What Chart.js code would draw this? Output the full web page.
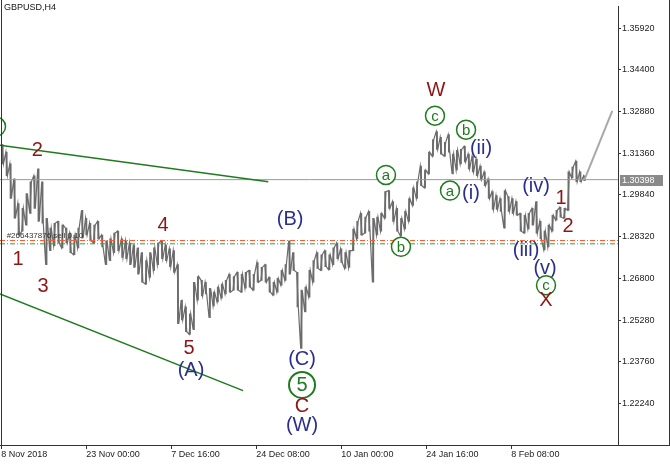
<!DOCTYPE html>
<html>
<head>
<meta charset="utf-8">
<title>GBPUSD H4</title>
<script src="https://cdn.jsdelivr.net/npm/chart.js@4.4.0/dist/chart.umd.min.js"></script>
<style>
    body { margin: 0; background: #fff; }
</style>
</head>
<body>
<canvas id="wykres" width="670" height="464"></canvas>
<script>
var barStep = 3;
var highs = [
    1.3168, 1.3140, 1.3097, 1.3043, 1.2953, 1.2935, 1.2989, 1.3032, 1.3054, 1.3079,
    1.3032, 1.2899, 1.2863, 1.2881, 1.2888, 1.2874, 1.2863, 1.2845, 1.2838, 1.2863,
    1.2928, 1.2899, 1.2881, 1.2874, 1.2888, 1.2838, 1.2817, 1.2824, 1.2845, 1.2852,
    1.2824, 1.2817, 1.2809, 1.2802, 1.2791, 1.2774, 1.2745, 1.2774, 1.2791, 1.2809,
    1.2817, 1.2802, 1.2788, 1.2781, 1.2730, 1.2601, 1.2576, 1.2551, 1.2666, 1.2687,
    1.2673, 1.2666, 1.2644, 1.2630, 1.2648, 1.2659, 1.2673, 1.2695, 1.2687, 1.2702,
    1.2695, 1.2702, 1.2709, 1.2695, 1.2738, 1.2720, 1.2730, 1.2684, 1.2666, 1.2680,
    1.2709, 1.2730, 1.2817, 1.2774, 1.2702, 1.2637, 1.2648, 1.2709, 1.2745, 1.2774,
    1.2766, 1.2781, 1.2766, 1.2791, 1.2809, 1.2788, 1.2774, 1.2781, 1.2860, 1.2888,
    1.2917, 1.2903, 1.2924, 1.2899, 1.2903, 1.2917, 1.2996, 1.3000, 1.2960, 1.2935,
    1.2899, 1.2924, 1.2971, 1.3010, 1.3032, 1.3089, 1.3075, 1.3140, 1.3186, 1.3215,
    1.3194, 1.3176, 1.3204, 1.3133, 1.3147, 1.3150, 1.3161, 1.3133, 1.3125, 1.3115,
    1.3089, 1.3068, 1.3043, 1.2996, 1.2982, 1.2971, 1.3000, 1.2978, 1.2971, 1.2960,
    1.2917, 1.2910, 1.2917, 1.2935, 1.2960, 1.2888, 1.2852, 1.2874, 1.2910, 1.2928,
    1.2939, 1.2935, 1.3068, 1.3086, 1.3107, 1.3068, 1.3054
];
var lows = [
    1.3097, 1.3054, 1.2971, 1.2899, 1.2838, 1.2852, 1.2874, 1.2917, 1.2935, 1.2888,
    1.2881, 1.2730, 1.2781, 1.2799, 1.2809, 1.2791, 1.2809, 1.2774, 1.2766, 1.2791,
    1.2827, 1.2838, 1.2817, 1.2809, 1.2824, 1.2795, 1.2730, 1.2745, 1.2774, 1.2781,
    1.2756, 1.2752, 1.2730, 1.2720, 1.2695, 1.2666, 1.2659, 1.2684, 1.2709, 1.2730,
    1.2752, 1.2745, 1.2723, 1.2702, 1.2515, 1.2529, 1.2486, 1.2476, 1.2493, 1.2601,
    1.2616, 1.2623, 1.2537, 1.2580, 1.2594, 1.2608, 1.2623, 1.2630, 1.2637, 1.2637,
    1.2630, 1.2644, 1.2648, 1.2637, 1.2666, 1.2673, 1.2666, 1.2630, 1.2619, 1.2630,
    1.2655, 1.2673, 1.2695, 1.2709, 1.2576, 1.2425, 1.2558, 1.2612, 1.2666, 1.2716,
    1.2709, 1.2723, 1.2712, 1.2730, 1.2752, 1.2738, 1.2716, 1.2720, 1.2781, 1.2824,
    1.2838, 1.2845, 1.2852, 1.2666, 1.2838, 1.2852, 1.2899, 1.2935, 1.2888, 1.2852,
    1.2835, 1.2860, 1.2888, 1.2946, 1.2971, 1.3018, 1.3010, 1.3061, 1.3125, 1.3150,
    1.3133, 1.3125, 1.3140, 1.3061, 1.3075, 1.3097, 1.3104, 1.3079, 1.3068, 1.3054,
    1.3039, 1.3018, 1.2971, 1.2931, 1.2931, 1.2924, 1.2863, 1.2924, 1.2917, 1.2910,
    1.2852, 1.2845, 1.2860, 1.2874, 1.2845, 1.2824, 1.2784, 1.2795, 1.2852, 1.2892,
    1.2903, 1.2899, 1.2928, 1.3046, 1.3032, 1.3032, 1.3036
];

var tickBars = [0, 64, 128, 192, 256, 320, 384];
var tickLabels = ["8 Nov 2018", "23 Nov 00:00", "7 Dec 16:00", "24 Dec 08:00", "10 Jan 00:00", "24 Jan 16:00", "8 Feb 08:00"];
var priceTicks = [1.22240, 1.23760, 1.25280, 1.26800, 1.28320, 1.29840, 1.31360, 1.32880, 1.34400, 1.35920];
var lastPrice = 1.30398;
var orderRed = 1.2818;
var orderGreen = 1.2806;
var orderText = "#266437876 sell 0.10";

var upperTrend = [{x: -1, y: 1.3165}, {x: 201, y: 1.3032}];
var lowerTrend = [{x: -1, y: 1.2623}, {x: 182, y: 1.2271}];
var projection = [{x: 439, y: 1.3039}, {x: 460, y: 1.3290}];

// wave marks: r = red, b = blue, g = green circle, G = big green circle
var waveText  = ["c", "2", "1", "3", "4", "5", "(A)", "(B)", "(C)", "5", "C", "(W)", "W", "c", "a", "b", "a", "(i)", "b", "(ii)", "(iv)", "1", "2", "(iii)", "(v)", "c", "X"];
var waveBar   = [-4, 27, 12.6, 31.4, 121.7, 141.3, 142.8, 217.4, 226.4, 226.4, 226.4, 226.4, 327.3, 326.5, 289.6, 300.9, 337.8, 353.6, 349.9, 361.2, 402.6, 421.4, 426.7, 395.1, 409.4, 410.1, 410.1];
var wavePrice = [1.3233, 1.3147, 1.2748, 1.2651, 1.2874, 1.2425, 1.2346, 1.2896, 1.2386, 1.2292, 1.2213, 1.2145, 1.3366, 1.3273, 1.3057, 1.2795, 1.3000, 1.2989, 1.3222, 1.3154, 1.3014, 1.2971, 1.2870, 1.2781, 1.2716, 1.2655, 1.2598];
var waveKind  = ["g", "r", "r", "r", "r", "r", "b", "b", "b", "G", "r", "b", "r", "g", "g", "g", "g", "b", "g", "b", "b", "r", "r", "b", "b", "g", "r"];

// bars as [low, high] plus a thin path low->high / high->low so the price reads as one trace
var bary = [];
var sciezka = [];
for (let k = 0; k < highs.length; k++) {
    var x = k * barStep + 1;
    bary.push({x: x, y: [lows[k], highs[k]]});
    var nast = k + 1 < highs.length ? k + 1 : k - 1;
    var wGore = (highs[nast] + lows[nast]) > (highs[k] + lows[k]);
    if (k === highs.length - 1) wGore = !wGore;
    if (wGore) {
        sciezka.push({x: x - 0.6, y: lows[k]}, {x: x + 0.6, y: highs[k]});
    } else {
        sciezka.push({x: x - 0.6, y: highs[k]}, {x: x + 0.6, y: lows[k]});
    }
}

function linia(y) {
    return [{x: -1, y: y}, {x: 465, y: y}];
}

var etykiety = {
    id: "etykiety",
    afterDatasetsDraw: function(chart) {
        var ctx = chart.ctx, xs = chart.scales.x, ys = chart.scales.y;
        ctx.save();
        ctx.font = "8px 'Liberation Sans'";
        ctx.fillStyle = "#333";
        ctx.textAlign = "left";
        ctx.textBaseline = "bottom";
        ctx.fillText(orderText, xs.getPixelForValue(4), ys.getPixelForValue(orderRed) - 1);

        ctx.textAlign = "center";
        ctx.textBaseline = "middle";
        for (let i = 0; i < waveText.length; i++) {
            var px = xs.getPixelForValue(waveBar[i]);
            var py = ys.getPixelForValue(wavePrice[i]);
            var k = waveKind[i];
            if (k === "g" || k === "G") {
                var r = k === "G" ? 13 : 9.5;
                ctx.beginPath();
                ctx.arc(px, py, r, 0, Math.PI * 2);
                ctx.fillStyle = "#fff";
                ctx.fill();
                ctx.lineWidth = k === "G" ? 2 : 1.5;
                ctx.strokeStyle = "#1e7b1e";
                ctx.stroke();
                ctx.fillStyle = "#1e7b1e";
                ctx.font = (k === "G" ? "20px" : "15px") + " 'Liberation Sans'";
                ctx.fillText(waveText[i], px, py + 1);
            } else {
                ctx.fillStyle = k === "r" ? "#8e1515" : "#2a2f8c";
                ctx.font = "20px 'Liberation Sans'";
                ctx.fillText(waveText[i], px, py);
            }
        }
        ctx.restore();
    },
    afterDraw: function(chart) {
        var ctx = chart.ctx, ys = chart.scales.y, a = chart.chartArea;
        ctx.save();
        ctx.strokeStyle = "#333";
        ctx.lineWidth = 1;
        ctx.beginPath();
        ctx.moveTo(1.5, 0);
        ctx.lineTo(1.5, a.bottom);
        ctx.moveTo(669.5, 0);
        ctx.lineTo(669.5, a.bottom);
        ctx.moveTo(0, a.bottom + 0.5);
        ctx.lineTo(670, a.bottom + 0.5);
        ctx.stroke();

        var y = Math.round(ys.getPixelForValue(lastPrice));
        ctx.fillStyle = "#8a8a8a";
        ctx.fillRect(a.right + 2, y - 5, 43, 11);
        ctx.fillStyle = "#fff";
        ctx.font = "9px 'Liberation Sans'";
        ctx.textAlign = "left";
        ctx.textBaseline = "middle";
        ctx.fillText(lastPrice.toFixed(5), a.right + 4, y + 1);

        ctx.fillStyle = "#111";
        ctx.font = "9px 'Liberation Sans'";
        ctx.textBaseline = "top";
        ctx.fillText("GBPUSD,H4", 4, 3);
        ctx.restore();
    }
};

var wykres = new Chart(document.getElementById("wykres").getContext("2d"), {
    type: "bar",
    data: {
        datasets: [{
            type: "line",
            data: upperTrend,
            borderColor: "#1e7b1e",
            borderWidth: 1.5,
            pointRadius: 0,
            order: 1
        }, {
            type: "line",
            data: lowerTrend,
            borderColor: "#1e7b1e",
            borderWidth: 1.5,
            pointRadius: 0,
            order: 1
        }, {
            type: "line",
            data: projection,
            borderColor: "#a8a8a8",
            borderWidth: 2,
            pointRadius: 0,
            order: 1
        }, {
            type: "line",
            data: linia(lastPrice),
            borderColor: "#9a9a9a",
            borderWidth: 1,
            pointRadius: 0,
            order: 2
        }, {
            type: "line",
            data: linia(orderRed),
            borderColor: "#ff5a2a",
            borderWidth: 1,
            borderDash: [5, 2, 1, 2],
            pointRadius: 0,
            order: 2
        }, {
            type: "line",
            data: linia(orderGreen),
            borderColor: "#3a9a3a",
            borderWidth: 1,
            borderDash: [5, 2, 1, 2],
            pointRadius: 0,
            order: 2
        }, {
            type: "line",
            data: sciezka,
            borderColor: "#6c6c6c",
            borderWidth: 1.2,
            pointRadius: 0,
            order: 3
        }, {
            type: "bar",
            data: bary,
            backgroundColor: "#6c6c6c",
            barThickness: 1.2,
            grouped: false,
            order: 3
        }]
    },
    options: {
        responsive: false,
        animation: false,
        devicePixelRatio: 1,
        layout: { padding: 0 },
        plugins: {
            legend: { display: false },
            tooltip: { enabled: false }
        },
        scales: {
            x: {
                type: "linear",
                min: -1,
                max: 464.3,
                offset: false,
                afterFit: function(s) { s.height = 19; },
                afterBuildTicks: function(s) {
                    s.ticks = tickBars.map(function(v) { return {value: v}; });
                },
                grid: { offset: false, drawOnChartArea: false, tickLength: 4, color: "#333" },
                border: { color: "#333" },
                ticks: {
                    autoSkip: false,
                    maxRotation: 0,
                    align: "start",
                    padding: 0,
                    color: "#222",
                    font: { family: "'Liberation Sans'", size: 9 },
                    callback: function(v) { return tickLabels[tickBars.indexOf(v)]; }
                }
            },
            y: {
                type: "linear",
                position: "right",
                min: 1.2073,
                max: 1.3671,
                afterFit: function(s) { s.width = 52; },
                afterBuildTicks: function(s) {
                    s.ticks = priceTicks.map(function(v) { return {value: v}; });
                },
                grid: { drawOnChartArea: false, tickLength: 3, color: "#333" },
                border: { color: "#333" },
                ticks: {
                    crossAlign: "near",
                    padding: 1,
                    color: "#222",
                    font: { family: "'Liberation Sans'", size: 9 },
                    callback: function(v) { return v.toFixed(5); }
                }
            }
        }
    },
    plugins: [etykiety]
});
</script>
</body>
</html>
